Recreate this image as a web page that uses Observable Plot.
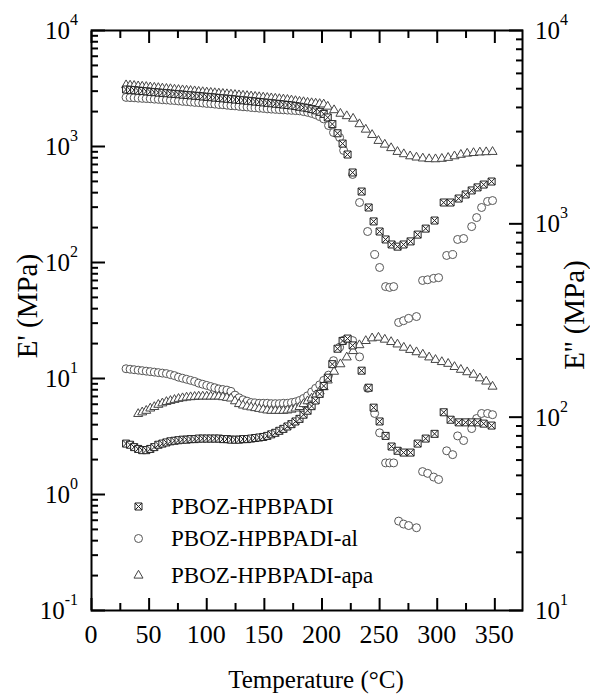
<!DOCTYPE html>
<html>
<head>
<meta charset="utf-8">
<script src="https://cdn.jsdelivr.net/npm/d3@7"></script>
<script src="https://cdn.jsdelivr.net/npm/@observablehq/plot@0.6"></script>
<style>
  html, body { margin: 0; padding: 0; background: #fff; font-family: "Liberation Serif", serif; }
  #wrap { position: relative; width: 590px; height: 694px; }
  #xtitle { position: absolute; left: 0; top: 667px; width: 632px; text-align: center;
            font-family: "Liberation Serif", serif; font-size: 25px; line-height: 25px; color: #000; white-space: nowrap; }
  .lbl { position: absolute; line-height: 1; white-space: nowrap; font-family: "Liberation Serif", serif; color: #000; }
  .sup { font-size: 16px; position: relative; top: -14px; }
</style>
</head>
<body>
<div id="wrap">
  <div id="chart"></div>
  <div id="xtitle"></div>
</div>
<script>
// ---------------- DATA ----------------
const seriesNames = ["PBOZ-HPBPADI", "PBOZ-HPBPADI-al", "PBOZ-HPBPADI-apa"];

// dense low-temperature region (°C), shared by all three samples
const tempDense = [30, 33.5, 37, 40.5, 44, 47.5, 51, 54.5, 58, 61.5, 65, 68.5, 72, 75.5, 79, 82.5, 86, 89.5, 93, 96.5,
  100, 103.5, 107, 110.5, 114, 117.5, 121, 124.5, 128, 131.5, 135, 138.5, 142, 145.5, 149, 152.5, 156, 159.5, 163, 166.5,
  170, 173.5, 177, 180.5, 184, 187.5, 191, 194.5, 198, 201.5];

// PBOZ-HPBPADI (squares)
const sqStorageDense = [3100, 3080, 3060, 3030, 3010, 2990, 2960, 2940, 2920, 2900, 2880, 2860, 2840, 2820, 2800, 2780, 2760, 2740, 2720, 2700,
  2680, 2660, 2640, 2620, 2600, 2580, 2560, 2540, 2520, 2500, 2480, 2460, 2440, 2420, 2400, 2380, 2360, 2340, 2320, 2300,
  2280, 2260, 2230, 2200, 2170, 2140, 2100, 2050, 1990, 1910];
const sqLossDense = [73, 72, 70, 68.5, 67.5, 67.5, 68.5, 70, 72, 73, 74, 75, 75.5, 76, 76.5, 76.5, 77, 77, 77.5, 77.5,
  77.5, 77.5, 77.5, 77.5, 77, 77, 76.5, 76.5, 76.5, 77, 77, 77.5, 78, 78.5, 79, 80, 81.5, 83, 85, 87,
  89.5, 92, 95, 98, 103, 108, 114, 122, 132, 145];
const sqTailT = [205, 209, 213.5, 217.9, 222.2, 226.6, 234.4, 240.5, 244.8, 250, 255.2, 260.4, 265.6, 270.8, 276.9, 283, 290, 297.7, 305.6, 311.6, 318.6, 324.7, 329.9, 335, 340.3, 347.2];
const sqTailStorage = [1780, 1560, 1300, 1060, 853, 597, 409, 298, 226, 185, 158, 143, 137, 143, 152, 174, 196, 230, 329, 329, 356, 386, 418, 444, 470, 499];
const sqTailLoss = [160, 188, 226, 248, 255, 235, 174, 142, 112, 95, 80, 70.5, 67, 65.6, 65.6, 73, 77.5, 82, 106, 97, 94, 94, 94, 94, 92.6, 90.5];

// PBOZ-HPBPADI-al (circles)
const ciStorageDense = [2650, 2640, 2630, 2610, 2600, 2590, 2580, 2560, 2550, 2530, 2520, 2500, 2490, 2470, 2450, 2440, 2420, 2400, 2390, 2370,
  2350, 2340, 2320, 2300, 2290, 2270, 2250, 2240, 2220, 2200, 2190, 2170, 2160, 2140, 2130, 2110, 2100, 2090, 2080, 2070,
  2060, 2050, 2040, 2030, 2000, 1970, 1930, 1880, 1810, 1730];
const ciLossDense = [178, 177, 176, 175, 174, 173, 172, 171, 170, 169, 168, 166, 164, 161, 159, 157, 155, 153, 150, 148,
  146, 144, 142, 140, 139, 138, 136, 130, 126, 123, 121, 119, 118.5, 118, 118, 118, 117.5, 117.5, 117.5, 118,
  118, 119, 120, 122, 125, 129, 135, 141, 147, 155];
const ciTailT = [205.7, 210, 215.3, 218.8, 226.6, 232.6, 239.6, 245.7, 250, 255.2, 258.7, 262.2, 266.5, 270.8, 275.2, 282, 287.3, 291.7, 296.9, 301.2, 308.2, 313.4, 317.7, 322.9, 329.9, 334.2, 338.5, 343.7, 348];
const ciTailStorage = [1517, 1321, 1197, 925, 574, 329, 185, 117, 90.6, 62, 61, 62, 30.4, 31.5, 33, 34.2, 70, 71, 73, 74, 115, 117, 158, 161, 204, 244, 298, 336, 342];
const ciTailLoss = [165, 196, 230, 250, 249, 205, 141, 104.5, 83, 58, 58, 58, 29, 28, 27.5, 26.8, 52.3, 51.2, 49, 47.6, 67, 64, 80, 75.7, 87.3, 98.4, 104.5, 104.5, 103];

// PBOZ-HPBPADI-apa (triangles)
const trStorageDense = [3380, 3360, 3340, 3310, 3290, 3270, 3240, 3220, 3200, 3170, 3150, 3130, 3100, 3080, 3060, 3040, 3020, 3000, 2970, 2950,
  2930, 2910, 2890, 2870, 2850, 2830, 2810, 2790, 2770, 2750, 2730, 2710, 2690, 2670, 2650, 2630, 2610, 2590, 2570, 2550,
  2530, 2500, 2470, 2440, 2420, 2390, 2370, 2350, 2330, 2310];
const trLossDense = [null, null, null, 104, 106, 108, 111, 113, 116, 118, 120, 121.5, 123, 124.5, 125.5, 126.5, 127, 127.5, 128, 128,
  128, 128, 128, 128, 127, 126, 125, 121, 117, 115, 113.5, 112.5, 111.5, 110.5, 109.5, 108.5, 108, 108, 108, 108,
  108.5, 109.5, 111, 113, 117, 121, 125, 130, 136, 143];
const trTailT = [205, 210.5, 216, 221.5, 227, 232.5, 238, 243.5, 249, 254.5, 260, 265.5, 271, 276.5, 282, 287.5, 293, 298.5, 304, 309.5, 315, 320.5, 326, 331.5, 337, 342.5, 348];
const trTailStorage = [2210, 2060, 1920, 1830, 1740, 1560, 1400, 1260, 1120, 1040, 970, 900, 860, 825, 805, 790, 780, 778, 785, 800, 825, 850, 870, 880, 890, 895, 900];
const trTailLoss = [155, 172, 188, 204, 220, 236, 248, 256, 258, 252, 245, 238, 229, 223, 217, 211, 204, 198, 193, 189, 182, 176, 171, 166, 159, 153, 144];

// axes
const xMajorTicks = [0, 50, 100, 150, 200, 250, 300, 350];
const xMinorTicks = [25, 75, 125, 175, 225, 275, 325];
const leftDomain = [0.1, 10000];
const rightDomain = [10, 10000];
const leftMajorTicks = [0.1, 1, 10, 100, 1000, 10000];
const rightMajorTicks = [10, 100, 1000, 10000];
const minorMultipliers = [2, 3, 4, 5, 6, 7, 8, 9];
const xTitle = "Temperature (\u00B0C)";
const leftTitle = "E' (MPa)";
const rightTitle = "E'' (MPa)";

// ---------------- HELPERS ----------------
const L0 = Math.log10(leftDomain[0]), L1 = Math.log10(leftDomain[1]);
const R0 = Math.log10(rightDomain[0]), R1 = Math.log10(rightDomain[1]);
// map a value on the right (E'') axis onto the shared left log scale
const toLeft = v => Math.pow(10, L0 + (Math.log10(v) - R0) * (L1 - L0) / (R1 - R0));

const minorsOf = majors => majors.slice(0, -1).flatMap(m => minorMultipliers.map(k => k * m));
const leftMinorTicks = minorsOf(leftMajorTicks);
const rightMinorTicks = minorsOf(rightMajorTicks);

function buildRows(tD, sD, lD, tT, sT, lT) {
  const rows = [];
  const T = tD.concat(tT), S = sD.concat(sT), Lo = lD.concat(lT);
  T.forEach((t, i) => {
    if (S[i] != null) rows.push({T: t, y: S[i]});
    if (Lo[i] != null) rows.push({T: t, y: toLeft(Lo[i])});
  });
  return rows;
}
const sqRows = buildRows(tempDense, sqStorageDense, sqLossDense, sqTailT, sqTailStorage, sqTailLoss);
const ciRows = buildRows(tempDense, ciStorageDense, ciLossDense, ciTailT, ciTailStorage, ciTailLoss);
const trRows = buildRows(tempDense, trStorageDense, trLossDense, trTailT, trTailStorage, trTailLoss);

// square with an X inside
const squareX = {
  draw(ctx, size) {
    const h = Math.sqrt(size) / 2;
    ctx.moveTo(-h, -h); ctx.lineTo(h, -h); ctx.lineTo(h, h); ctx.lineTo(-h, h); ctx.closePath();
    ctx.moveTo(-h, -h); ctx.lineTo(h, h);
    ctx.moveTo(h, -h); ctx.lineTo(-h, h);
  }
};
const symbolStyles = [
  {symbol: squareX, r: 3.95, stroke: "#222"},
  {symbol: "circle", r: 4, stroke: "#555"},
  {symbol: "triangle", r: 3.35, stroke: "#444"}
];
const legendOffsets = [-104, -72, -35];
const sw = 2;

const marks = [
  Plot.dot(ciRows, {x: "T", y: "y", ...symbolStyles[1], fill: "white", strokeWidth: 1}),
  Plot.dot(trRows, {x: "T", y: "y", ...symbolStyles[2], fill: "white", strokeWidth: 1}),
  Plot.dot(sqRows, {x: "T", y: "y", ...symbolStyles[0], fill: "white", strokeWidth: 1}),
  // ticks (inward)
  Plot.axisX(xMajorTicks, {anchor: "bottom", tickSize: -12, fill: "none", strokeWidth: sw}),
  Plot.axisX(xMinorTicks, {anchor: "bottom", tickSize: -7, fill: "none", strokeWidth: sw}),
  Plot.axisX(xMajorTicks, {anchor: "top", tickSize: -12, fill: "none", strokeWidth: sw}),
  Plot.axisX(xMinorTicks, {anchor: "top", tickSize: -7, fill: "none", strokeWidth: sw}),
  Plot.axisY(leftMajorTicks, {anchor: "left", tickSize: -14, fill: "none", strokeWidth: sw}),
  Plot.axisY(leftMinorTicks, {anchor: "left", tickSize: -7, fill: "none", strokeWidth: sw}),
  Plot.axisY(rightMajorTicks.map(toLeft), {anchor: "right", tickSize: -14, fill: "none", strokeWidth: sw}),
  Plot.axisY(rightMinorTicks.map(toLeft), {anchor: "right", tickSize: -7, fill: "none", strokeWidth: sw}),
  Plot.frame({stroke: "#000", strokeWidth: sw})
];
// legend symbols
seriesNames.forEach((name, i) => {
  marks.push(Plot.dot([name], {frameAnchor: "bottom-left", dx: 47, dy: legendOffsets[i], ...symbolStyles[i], fill: "white", strokeWidth: 1}));
});

const chart = Plot.plot({
  width: 590,
  height: 652,
  marginLeft: 91,
  marginRight: 68,
  marginTop: 30,
  marginBottom: 42,
  style: {color: "#000", background: "#fff"},
  x: {domain: [0, 374]},
  y: {type: "log", domain: leftDomain},
  marks
});
document.getElementById("chart").appendChild(chart);
document.getElementById("xtitle").textContent = xTitle;

// ---------------- TEXT (HTML, placed with Plot's scales) ----------------
const wrap = document.getElementById("wrap");
const sx = chart.scale("x"), sy = chart.scale("y");
function addLabel(parts, x, y, size, transform) {
  const d = document.createElement("div");
  d.className = "lbl";
  d.style.left = x + "px";
  d.style.top = y + "px";
  d.style.fontSize = size + "px";
  d.style.transform = transform;
  d.appendChild(document.createTextNode(parts[0]));
  if (parts.length > 1) {
    const s = document.createElement("span");
    s.className = "sup";
    s.textContent = parts[1];
    d.appendChild(s);
  }
  wrap.appendChild(d);
}
const frameLeft = sx.apply(0), frameRight = sx.apply(374);
const frameTop = sy.apply(leftDomain[1]), frameBottom = sy.apply(leftDomain[0]);
const frameMid = (frameTop + frameBottom) / 2;

xMajorTicks.forEach(t => addLabel([String(t)], sx.apply(t), frameBottom + 25, 26, "translate(-50%, -50%)"));
leftMajorTicks.forEach(v => addLabel(["10", String(Math.round(Math.log10(v)))], frameLeft - 13, sy.apply(v), 25, "translate(-100%, -50%)"));
rightMajorTicks.forEach(v => addLabel(["10", String(Math.round(Math.log10(v)))], frameRight + 13, sy.apply(toLeft(v)), 25, "translate(0, -50%)"));
addLabel([leftTitle], frameLeft - 64, frameMid - 14, 29, "translate(-50%, -50%) rotate(-90deg)");
addLabel([rightTitle], frameRight + 52, frameMid - 5, 29, "translate(-50%, -50%) rotate(-90deg)");
seriesNames.forEach((name, i) => addLabel([name], frameLeft + 80, frameBottom + legendOffsets[i], 23, "translate(0, -50%)"));
</script>
</body>
</html>
